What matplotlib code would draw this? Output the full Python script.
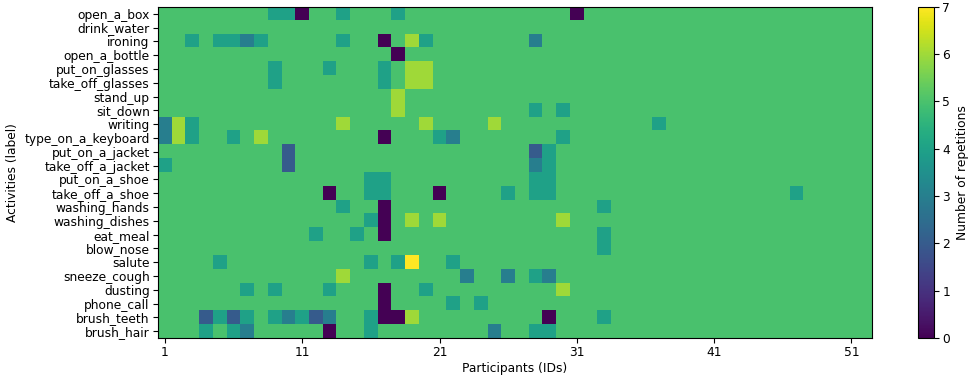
import numpy as np
import matplotlib
matplotlib.use("Agg")
import matplotlib.pyplot as plt

# ── data ──────────────────────────────────────────────────────────────────────
activities = [
    "open_a_box", "drink_water", "ironing", "open_a_bottle", "put_on_glasses",
    "take_off_glasses", "stand_up", "sit_down", "writing", "type_on_a_keyboard",
    "put_on_a_jacket", "take_off_a_jacket", "put_on_a_shoe", "take_off_a_shoe",
    "washing_hands", "washing_dishes", "eat_meal", "blow_nose", "salute",
    "sneeze_cough", "dusting", "phone_call", "brush_teeth", "brush_hair",
]
participants = np.arange(1, 53)
id_ticks = [1, 11, 21, 31, 41, 51]

# repetitions per participant, grouped by ten IDs (1-10, 11-20, ... 51-52)
repetitions = [
    "5555555544 0554555455 5555555555 0555555555 5555555555 55",  # open_a_box
    "5555555555 5555555555 5555555555 5555555555 5555555555 55",  # drink_water
    "5545443455 5554550564 5555555355 5555555555 5555555555 55",  # ironing
    "5555555555 5555555055 5555555555 5555555555 5555555555 55",  # open_a_bottle
    "5555555545 5545554566 5555555555 5555555555 5555555555 55",  # put_on_glasses
    "5555555545 5555554566 5555555555 5555555555 5555555555 55",  # take_off_glasses
    "5555555555 5555555655 5555555555 5555555555 5555555555 55",  # stand_up
    "5555555555 5555555655 5555555454 5555555555 5555555555 55",  # sit_down
    "3645555555 5556555556 5555655555 5555554555 5555555555 55",  # writing
    "3645545655 5555550555 4355555554 5555555555 5555555555 55",  # type_on_a_keyboard
    "5555555552 5555555555 5555555245 5555555555 5555555555 55",  # put_on_a_jacket
    "4555555552 5555555555 5555555345 5555555555 5555555555 55",  # take_off_a_jacket
    "5555555555 5555544555 5555555445 5555555555 5555555555 55",  # put_on_a_shoe
    "5555555555 5505544555 0555545445 5555555555 5555554555 55",  # take_off_a_shoe
    "5555555555 5554550555 5555555555 5545555555 5555555555 55",  # washing_hands
    "5555555555 5555540565 6555555556 5555555555 5555555555 55",  # washing_dishes
    "5555555555 5455450555 5555555555 5545555555 5555555555 55",  # eat_meal
    "5555555555 5555555555 5555555555 5545555555 5555555555 55",  # blow_nose
    "5555455555 5555545475 5455555555 5555555555 5555555555 55",  # salute
    "5555555555 5556555555 5535535435 5555555555 5555555555 55",  # sneeze_cough
    "5555554545 5545550554 5555555556 5555555555 5555555555 55",  # dusting
    "5555555555 5555550555 5454555555 5555555555 5555555555 55",  # phone_call
    "5552424543 4235540065 5555555505 5545555555 5555555555 55",  # brush_teeth
    "5554543555 5505545555 5555355445 5555555555 5555555555 55",  # brush_hair
]

counts = np.array([[int(c) for c in row.replace(" ", "")] for row in repetitions])

# ── plot ──────────────────────────────────────────────────────────────────────
FS = 8.8

fig = plt.figure(figsize=(9.74, 3.79), dpi=100)
ax = fig.add_axes([0.1623, 0.108, 0.7330, 0.874])
cax = fig.add_axes([0.9425, 0.108, 0.0165, 0.874])

im = ax.imshow(
    counts, cmap="viridis", vmin=0, vmax=7, aspect="auto",
    interpolation="nearest",
    extent=(participants[0] - 0.5, participants[-1] + 0.5, len(activities) - 0.5, -0.5),
)

ax.set_yticks(range(len(activities)))
ax.set_yticklabels(activities, fontsize=FS)
ax.set_xticks(id_ticks)
ax.set_xticklabels([str(t) for t in id_ticks], fontsize=FS)
ax.tick_params(length=3.5, pad=2.5)
ax.set_xlabel("Participants (IDs)", fontsize=FS, labelpad=2)
ax.set_ylabel("Activities (label)", fontsize=FS, labelpad=4)

cb = fig.colorbar(im, cax=cax)
cb.set_ticks(range(0, 8))
cb.ax.tick_params(labelsize=FS, length=3.5, pad=2.5)
cb.set_label("Number of repetitions", fontsize=FS)

plt.savefig("out.png", dpi=100)
plt.close()
